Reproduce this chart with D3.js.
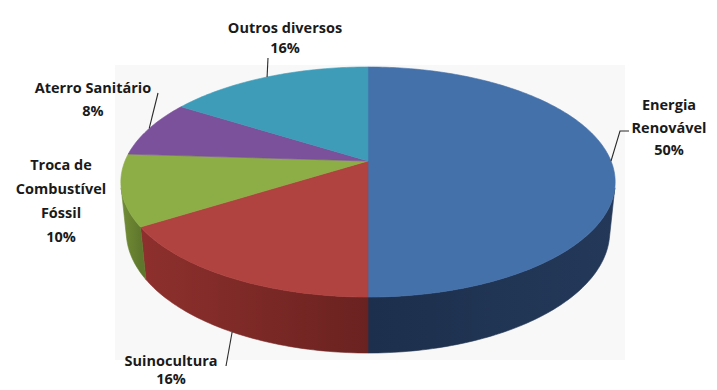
<!DOCTYPE html>
<html>
<head>
<meta charset="utf-8">
<script src="https://cdn.jsdelivr.net/npm/d3@7"></script>
<style>
  html, body { margin: 0; padding: 0; background: #ffffff; }
  svg { display: block; }
  text { font-family: "Open Sans", Lato, sans-serif; font-weight: 700; fill: #1a1a1a; }
</style>
</head>
<body>
<svg id="chart" width="717" height="390"></svg>
<script>
// Shares of the project portfolio by category
const categories = ["Energia Renovável", "Suinocultura", "Troca de Combustível Fóssil", "Aterro Sanitário", "Outros diversos"];
const values = [50, 16, 10, 8, 16];
const labelLines = [["Energia", "Renovável"], ["Suinocultura"], ["Troca de", "Combustível", "Fóssil"], ["Aterro Sanitário"], ["Outros diversos"]];
const percentLabels = ["50%", "16%", "10%", "8%", "16%"];

const topColors  = ["#4571ab", "#b0423f", "#8dad47", "#7a519a", "#3e9cb8"];
const sideLight  = ["#24395a", "#8e302d", "#728d37", "#5e3c78", "#2c7a91"];
const sideDark   = ["#1c2f4c", "#6a2220", "#5f772c", "#4c2f62", "#22606f"];

const W = 717, H = 390;
const svg = d3.select("#chart");

// Perspective view of a flat cylinder (unit radius), seen from above-front
const cx = 368, cy = 161;
const dist = 4.866, focal = 1182.5;
const sinE = 0.4576, cosE = 0.889;
const thick = 0.231;

function project(theta, yLevel) {
  const X = Math.sin(theta), Z = Math.cos(theta), Y = yLevel;
  const u = Z * sinE + Y * cosE;
  const w = dist + Z * cosE - Y * sinE;
  return [cx + focal * X / w, cy - focal * u / w];
}
function projectCenter(yLevel) {
  const u = yLevel * cosE, w = dist - yLevel * sinE;
  return [cx, cy - focal * u / w];
}

// Range of the outer wall that faces the viewer
const limit = Math.acos(-1 / (dist * cosE));
const wallStart = limit, wallEnd = 2 * Math.PI - limit;

const arcs = d3.pie().sort(null).startAngle(0).endAngle(2 * Math.PI)(values);

// faint plot-area backdrop
svg.append("rect").attr("x", 115).attr("y", 65).attr("width", 510).attr("height", 295)
  .attr("fill", "#f8f8f8");

const defs = svg.append("defs");
const line = d3.line();

function sample(a0, a1, yLevel) {
  const n = Math.max(2, Math.ceil((a1 - a0) / (Math.PI / 180)));
  return d3.range(n + 1).map(i => project(a0 + (a1 - a0) * i / n, yLevel));
}

// outer walls
const walls = svg.append("g");
arcs.forEach((a, i) => {
  const a0 = Math.max(a.startAngle, wallStart), a1 = Math.min(a.endAngle, wallEnd);
  if (a1 <= a0) return;
  const top = sample(a0, a1, 0);
  const bottom = sample(a0, a1, -thick).reverse();
  const xs = top.map(p => p[0]);
  const gid = "wall" + i;
  const g = defs.append("linearGradient").attr("id", gid)
    .attr("gradientUnits", "userSpaceOnUse")
    .attr("x1", d3.min(xs)).attr("x2", d3.max(xs)).attr("y1", 0).attr("y2", 0);
  const leftIsLight = i !== 0;
  g.append("stop").attr("offset", 0).attr("stop-color", leftIsLight ? sideLight[i] : sideDark[i]);
  g.append("stop").attr("offset", 1).attr("stop-color", leftIsLight ? sideDark[i] : sideLight[i]);
  walls.append("path")
    .attr("d", line(top.concat(bottom)) + "Z")
    .attr("fill", `url(#${gid})`)
    .attr("stroke", `url(#${gid})`).attr("stroke-width", 0.6);
});

// top faces
const tops = svg.append("g");
arcs.forEach((a, i) => {
  const pts = [projectCenter(0)].concat(sample(a.startAngle, a.endAngle, 0));
  tops.append("path")
    .attr("d", line(pts) + "Z")
    .attr("fill", topColors[i])
    .attr("stroke", topColors[i]).attr("stroke-width", 0.6)
    .attr("stroke-linejoin", "round");
});

// labels with leader lines
const layout = [
  { x: 669, y: 110, gap: 22.5, lead: [[620, 131], [629, 131]], rim: 0 },
  { x: 171, y: 366, gap: 18, lead: [[226, 366]], rim: -thick },
  { x: 61, y: 170, gap: 24, lead: null, rim: 0 },
  { x: 93, y: 93, gap: 23, lead: [[158, 93]], rim: 0 },
  { x: 285, y: 33, gap: 20, lead: [[268, 58]], rim: 0 }
];

const labels = svg.append("g");
arcs.forEach((a, i) => {
  const L = layout[i];
  const mid = (a.startAngle + a.endAngle) / 2;
  if (L.lead) {
    const anchor = project(mid, L.rim);
    labels.append("path")
      .attr("d", line([anchor].concat(L.lead)))
      .attr("fill", "none").attr("stroke", "#2a2a2a").attr("stroke-width", 1.1);
  }
  const lines = labelLines[i].concat([percentLabels[i]]);
  const t = labels.append("text").attr("text-anchor", "middle").attr("font-size", 14.5);
  lines.forEach((s, k) => {
    t.append("tspan").attr("x", L.x).attr("y", L.y + k * L.gap).text(s);
  });
});
</script>
</body>
</html>
